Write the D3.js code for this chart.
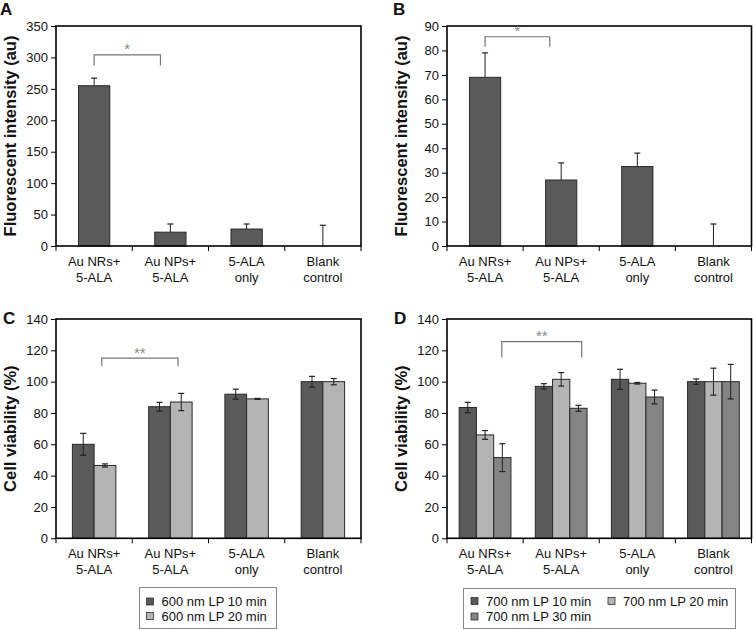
<!DOCTYPE html>
<html><head><meta charset="utf-8">
<script src="https://cdn.jsdelivr.net/npm/d3@7"></script>
<style>
body{margin:0;background:#fff;}
svg{display:block;font-family:Arial,"Liberation Sans",sans-serif;}
</style></head>
<body>
<svg id="chart" width="753" height="630"></svg>
<script>
// ---- data ----
const categories = ["Au NRs+ 5-ALA", "Au NPs+ 5-ALA", "5-ALA only", "Blank control"];
const categoryLines = [["Au NRs+", "5-ALA"], ["Au NPs+", "5-ALA"], ["5-ALA", "only"], ["Blank", "control"]];

const fluorA = [255, 22, 27, 0];
const fluorAErr = [12, 13, 8, 33];
const fluorB = [69, 27, 32.5, 0];
const fluorBErr = [10, 7, 5.5, 9];

const viabC10 = [60, 84, 92, 100];
const viabC10Err = [7, 2.8, 3.2, 3.4];
const viabC20 = [46.5, 87, 89, 100];
const viabC20Err = [1, 5.5, 0.3, 2];

const viabD10 = [83.5, 97, 101.5, 100];
const viabD10Err = [3.3, 1.7, 6.4, 1.7];
const viabD20 = [66, 101.5, 99, 100];
const viabD20Err = [2.8, 4.3, 0.5, 8.6];
const viabD30 = [51.5, 83, 90.2, 100];
const viabD30Err = [8.9, 1.9, 4.4, 11];

const seriesC = ["600 nm LP 10 min", "600 nm LP 20 min"];
const seriesD = ["700 nm LP 10 min", "700 nm LP 20 min", "700 nm LP 30 min"];

const ticksA = [0, 50, 100, 150, 200, 250, 300, 350];
const ticksB = [0, 10, 20, 30, 40, 50, 60, 70, 80, 90];
const ticksCD = [0, 20, 40, 60, 80, 100, 120, 140];

const COL_DARK = "#5a5a5a", COL_LIGHT = "#b4b4b4", COL_MID = "#848484";

const svg = d3.select("#chart");

function drawPanel(cfg) {
  const g = svg.append("g");
  const x = d3.scaleBand().domain(categories).range([cfg.x0, cfg.x1]).padding(0);
  const y = d3.scaleLinear().domain([0, cfg.ymax]).range([cfg.y1, cfg.y0]);
  const nS = cfg.series.length;
  const inner = d3.scaleBand().domain(d3.range(nS))
    .range([0, x.bandwidth() * cfg.groupFrac]);
  const off = (x.bandwidth() - x.bandwidth() * cfg.groupFrac) / 2;

  // bars
  cfg.series.forEach((s, si) => {
    const rows = categories.map((c, i) => ({c, v: s.values[i], e: s.err[i]}));
    g.selectAll(null).data(rows.filter(d => d.v > 0)).enter().append("rect")
      .attr("x", d => x(d.c) + off + inner(si))
      .attr("y", d => y(d.v))
      .attr("width", inner.bandwidth())
      .attr("height", d => y(0) - y(d.v))
      .attr("fill", s.color).attr("stroke", "#2a2a2a").attr("stroke-width", 1);
    // error bars
    rows.forEach(d => {
      const cx = x(d.c) + off + inner(si) + inner.bandwidth() / 2;
      const lo = cfg.upOnly ? d.v : Math.max(0, d.v - d.e);
      const hi = d.v + d.e;
      g.append("line").attr("x1", cx).attr("x2", cx).attr("y1", y(lo)).attr("y2", y(hi))
        .attr("stroke", "#222").attr("stroke-width", 1);
      g.append("line").attr("x1", cx - 3).attr("x2", cx + 3).attr("y1", y(hi)).attr("y2", y(hi))
        .attr("stroke", "#222").attr("stroke-width", 1.2);
      if (!cfg.upOnly) {
        g.append("line").attr("x1", cx - 3).attr("x2", cx + 3).attr("y1", y(lo)).attr("y2", y(lo))
          .attr("stroke", "#222").attr("stroke-width", 1.2);
      }
    });
  });

  // y axis
  const ya = g.append("g").attr("transform", `translate(${cfg.x0},0)`)
    .call(d3.axisLeft(y).tickValues(cfg.ticks).tickSize(5).tickPadding(3).tickFormat(d3.format("d")));
  ya.select(".domain").remove();
  ya.selectAll("line").attr("stroke", "#000");
  ya.selectAll("text").attr("font-size", 13).attr("fill", "#111").attr("font-family", "Arial, Liberation Sans");

  // x axis ticks at boundaries
  const bounds = categories.map(c => x(c)).concat([cfg.x1]);
  g.selectAll(null).data(bounds).enter().append("line")
    .attr("x1", d => d).attr("x2", d => d).attr("y1", cfg.y1).attr("y2", cfg.y1 + 5)
    .attr("stroke", "#000").attr("stroke-width", 1);

  // category labels
  categories.forEach((c, i) => {
    const t = g.append("text").attr("x", x(c) + x.bandwidth() / 2).attr("text-anchor", "middle")
      .attr("font-size", 13).attr("fill", "#111");
    categoryLines[i].forEach((ln, j) => {
      t.append("tspan").attr("x", x(c) + x.bandwidth() / 2).attr("y", cfg.y1 + 20 + j * 16).text(ln);
    });
  });

  // frame
  g.append("rect").attr("x", cfg.x0).attr("y", cfg.y0).attr("width", cfg.x1 - cfg.x0)
    .attr("height", cfg.y1 - cfg.y0).attr("fill", "none").attr("stroke", "#000").attr("stroke-width", 1.6);

  // y title
  g.append("text").attr("transform", `translate(${cfg.titleX},${(cfg.y0 + cfg.y1) / 2}) rotate(-90)`)
    .attr("text-anchor", "middle").attr("font-size", 16.5).attr("font-weight", "bold").attr("fill", "#111")
    .text(cfg.yTitle);

  // panel letter
  g.append("text").attr("x", cfg.letterX).attr("y", cfg.letterY).attr("font-size", 17)
    .attr("font-weight", "bold").attr("fill", "#111").text(cfg.letter);

  // significance bracket
  const b = cfg.bracket;
  const bx1 = x(categories[b.from]) + b.fromFrac * x.bandwidth();
  const bx2 = x(categories[b.to]) + b.toFrac * x.bandwidth();
  g.append("path")
    .attr("d", `M${bx1},${y(b.low)}V${y(b.top)}H${bx2}V${y(b.low)}`)
    .attr("fill", "none").attr("stroke", "#777").attr("stroke-width", 1.2);
  g.append("text").attr("x", (bx1 + bx2) / 2).attr("y", y(b.top) - 0.5).attr("text-anchor", "middle")
    .attr("font-size", 15).attr("fill", "#888").text(b.label);

  return {x, y};
}

drawPanel({letter: "A", letterX: 0, letterY: 15, x0: 56, x1: 361, y0: 26, y1: 246, ymax: 350, ticks: ticksA,
  yTitle: "Fluorescent intensity (au)", titleX: 16, groupFrac: 0.41, upOnly: true,
  series: [{values: fluorA, err: fluorAErr, color: COL_DARK}],
  bracket: {from: 0, fromFrac: 0.5, to: 1, toFrac: 0.37, top: 304, low: 287, label: "*"}});

drawPanel({letter: "B", letterX: 393, letterY: 15, x0: 447, x1: 751.5, y0: 26, y1: 246, ymax: 90, ticks: ticksB,
  yTitle: "Fluorescent intensity (au)", titleX: 407, groupFrac: 0.41, upOnly: true,
  series: [{values: fluorB, err: fluorBErr, color: COL_DARK}],
  bracket: {from: 0, fromFrac: 0.5, to: 1, toFrac: 0.35, top: 85.6, low: 81.5, label: "*"}});

drawPanel({letter: "C", letterX: 3, letterY: 324, x0: 56, x1: 361, y0: 319, y1: 538.3, ymax: 140, ticks: ticksCD,
  yTitle: "Cell viability (%)", titleX: 16, groupFrac: 0.57, upOnly: false,
  series: [{values: viabC10, err: viabC10Err, color: COL_DARK}, {values: viabC20, err: viabC20Err, color: COL_LIGHT}],
  bracket: {from: 0, fromFrac: 0.6, to: 1, toFrac: 0.6, top: 115, low: 110, label: "**"}});

drawPanel({letter: "D", letterX: 394, letterY: 324, x0: 447, x1: 751.5, y0: 319, y1: 538.3, ymax: 140, ticks: ticksCD,
  yTitle: "Cell viability (%)", titleX: 407, groupFrac: 0.68, upOnly: false,
  series: [{values: viabD10, err: viabD10Err, color: COL_DARK}, {values: viabD20, err: viabD20Err, color: COL_LIGHT},
           {values: viabD30, err: viabD30Err, color: COL_MID}],
  bracket: {from: 0, fromFrac: 0.72, to: 1, toFrac: 0.77, top: 125.5, low: 115.5, label: "**"}});

// legends
function legend(x0, y0, w, h, items) {
  const g = svg.append("g");
  g.append("rect").attr("x", x0).attr("y", y0).attr("width", w).attr("height", h)
    .attr("fill", "#fff").attr("stroke", "#888").attr("stroke-width", 1);
  items.forEach(it => {
    g.append("rect").attr("x", it.x).attr("y", it.y - 3.5).attr("width", 7).attr("height", 7)
      .attr("fill", it.color).attr("stroke", "#333").attr("stroke-width", 0.8);
    g.append("text").attr("x", it.x + 15).attr("y", it.y + 4.5).attr("font-size", 13).attr("fill", "#111").text(it.label);
  });
}
legend(139.5, 587.5, 137, 41, [
  {x: 146.5, y: 601.5, color: COL_DARK, label: seriesC[0]},
  {x: 146.5, y: 616, color: COL_LIGHT, label: seriesC[1]}]);
legend(463.5, 588.5, 272, 40, [
  {x: 471, y: 601, color: COL_DARK, label: seriesD[0]},
  {x: 608, y: 601, color: COL_LIGHT, label: seriesD[1]},
  {x: 471, y: 616.5, color: COL_MID, label: seriesD[2]}]);
</script>
</body></html>
